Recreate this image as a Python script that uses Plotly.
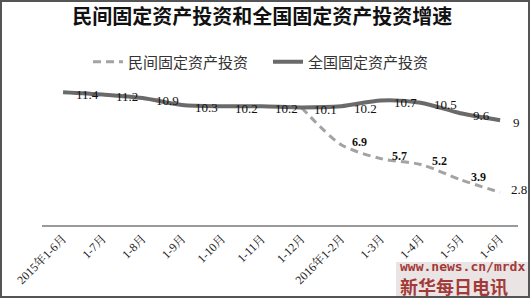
import plotly.graph_objects as go

categories = ["2015年1-6月", "1-7月", "1-8月", "1-9月", "1-10月", "1-11月", "1-12月",
              "2016年1-2月", "1-3月", "1-4月", "1-5月", "1-6月"]
national = [11.4, 11.2, 10.9, 10.3, 10.2, 10.2, 10.1, 10.2, 10.7, 10.5, 9.6, 9.0]
national_labels = ["11.4", "11.2", "10.9", "10.3", "10.2", "10.2", "10.1", "10.2", "10.7", "10.5", "9.6", "9"]
private = [None, None, None, None, None, None, 10.1, 6.9, 5.7, 5.2, 3.9, 2.8]
private_labels = ["", "", "", "", "", "", "", "6.9", "5.7", "5.2", "3.9", "2.8"]

W, H = 530, 298
L, R, T, B = 42, 12, 62, 73
PW, PH = W - L - R, H - T - B

def px(x):
    return (x - L) / PW

def py(y):
    return (H - B - y) / PH

serif = "Liberation Serif, Noto Serif CJK SC, Noto Sans CJK SC, serif"
cjk = "Noto Sans CJK SC, sans-serif"

fig = go.Figure()
fig.add_trace(go.Scatter(
    x=categories, y=private, name="民间固定资产投资", mode="lines",
    line=dict(color="#a3a3a3", width=3, dash="8px,5px", shape="spline", smoothing=0.8),
    connectgaps=False,
))
fig.add_trace(go.Scatter(
    x=categories, y=national, name="全国固定资产投资", mode="lines",
    line=dict(color="#6a6a6a", width=4, shape="spline", smoothing=0.8),
))

annotations = []
for c, v, t in zip(categories, national, national_labels):
    annotations.append(dict(x=c, y=v, text=t, showarrow=False, xanchor="left",
                            xshift=11, yshift=-2,
                            font=dict(family=serif, size=13, color="#111")))
n_priv = len([t for t in private_labels if t])
k = 0
for c, v, t in zip(categories, private, private_labels):
    if v is None or not t:
        continue
    k += 1
    txt = t if k == n_priv else "<b>" + t + "</b>"
    annotations.append(dict(x=c, y=v, text=txt, showarrow=False, xanchor="left",
                            xshift=9, yshift=3,
                            font=dict(family=serif, size=12 if k < n_priv else 13, color="#111")))

# watermark (single two-line block)
annotations.append(dict(
    xref="paper", yref="paper", x=px(398), y=py(279), showarrow=False,
    xanchor="left", yanchor="middle", align="left",
    text=("<b><span style='font-family:DejaVu Sans Mono, monospace;font-size:13px'>www.news.cn/mrdx</span>"
          "<br>新华每日电讯</b>"),
    font=dict(family=cjk, size=18, color="#a23a3a"),
))

shapes = [
    dict(type="rect", xref="paper", yref="paper", x0=px(396), x1=px(530), y0=py(262), y1=py(298),
         fillcolor="#ebe4e4", line=dict(width=0), layer="below"),
    dict(type="rect", xref="paper", yref="paper", x0=px(1), x1=px(529), y0=py(1), y1=py(297),
         line=dict(color="#555555", width=2), fillcolor="rgba(0,0,0,0)"),
]

fig.update_layout(
    width=W, height=H, margin=dict(l=L, r=R, t=T, b=B),
    paper_bgcolor="white", plot_bgcolor="white",
    title=dict(text="<b>民间固定资产投资和全国固定资产投资增速</b>", x=0.495, xanchor="center",
               y=1 - 17 / H, yanchor="middle", font=dict(family=cjk, size=20, color="#111")),
    showlegend=True,
    legend=dict(orientation="h", x=px(88), y=py(62), xanchor="left", yanchor="middle",
                font=dict(family=cjk, size=15, color="#333"), bgcolor="rgba(0,0,0,0)",
                entrywidth=135, entrywidthmode="pixels"),
    xaxis=dict(type="category", range=[-0.53, 11.45], showline=True, linecolor="#9a9a9a", linewidth=2,
               showgrid=False, zeroline=False, ticks="", tickangle=-45,
               tickfont=dict(family=serif, size=12, color="#222")),
    yaxis=dict(range=[0, 14], visible=False, showgrid=False, zeroline=False),
    annotations=annotations, shapes=shapes,
)

fig.write_html("out.html")
